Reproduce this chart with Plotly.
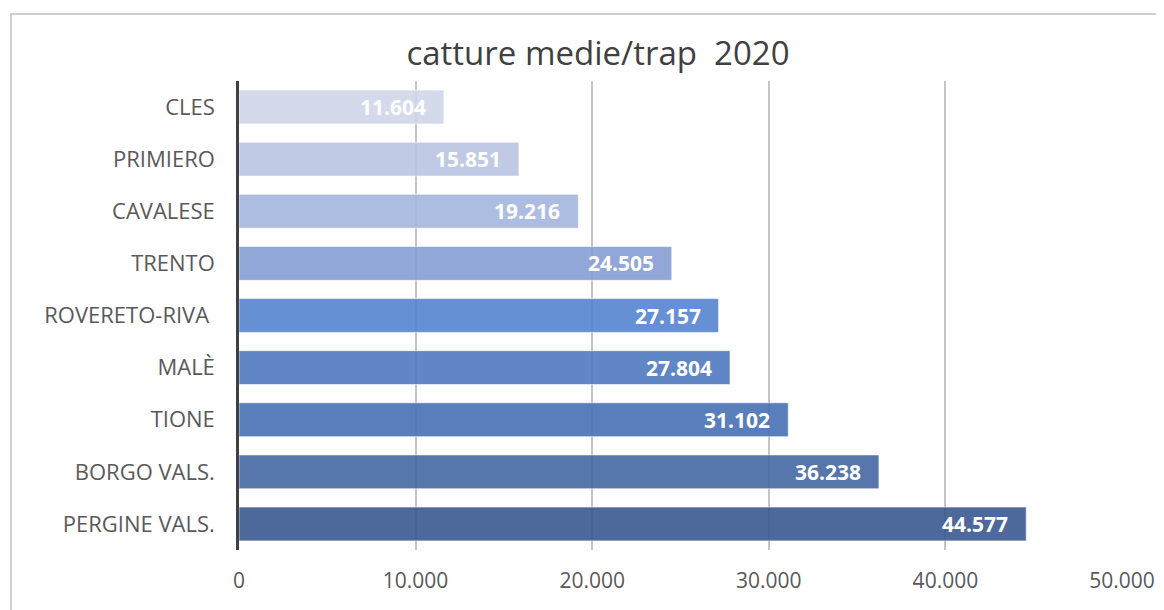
import plotly.graph_objects as go

categories = ["CLES", "PRIMIERO", "CAVALESE", "TRENTO", "ROVERETO-RIVA ", "MALÈ", "TIONE", "BORGO VALS.", "PERGINE VALS."]
values = [11604, 15851, 19216, 24505, 27157, 27804, 31102, 36238, 44577]
bar_colors = ["#d0d6ea", "#bbc5e3", "#a5b6df", "#859ed4", "#5584cf", "#4f79c0", "#4971b5", "#4468a4", "#3a5992"]
x_ticks = [0, 10000, 20000, 30000, 40000, 50000]
title_text = "catture medie/trap  2020"

W, H = 1164, 610
OFF = 8  # page body margin offset
L, R, T, B = 239 - OFF, 42 + OFF, 81 - OFF, 60 + OFF
FONT = "Open Sans"

fig = go.Figure()
fig.add_trace(go.Bar(
    y=categories, x=values, orientation="h",
    marker=dict(color=bar_colors, opacity=0.9,
                line=dict(color="rgba(255,255,255,0.6)", width=1)),
    hoverinfo="skip",
))

for c, v in zip(categories, values):
    fig.add_annotation(
        x=v, y=c, xref="x", yref="y", text=f"{v:,}".replace(",", "."),
        showarrow=False, xanchor="right", yanchor="middle", xshift=-16,
        font=dict(family=FONT, size=21, color="white", weight="bold"),
    )

pw = W - L - R
ph = H - T - B
fig.add_shape(type="rect", xref="paper", yref="paper",
              x0=(11 - OFF - L) / pw, x1=(1300 - L) / pw,
              y0=-(700 - H + B) / ph, y1=1 + (T - (14 - OFF)) / ph,
              line=dict(color="#d0d0d0", width=2), fillcolor="rgba(0,0,0,0)", layer="below")

fig.update_layout(
    width=W, height=H,
    margin=dict(l=L, r=R, t=T, b=B, pad=0),
    paper_bgcolor="white", plot_bgcolor="white",
    separators=",.",
    bargap=0.35,
    showlegend=False,
    title=dict(text=title_text, x=(598 - OFF) / W, xref="container", xanchor="center",
               y=1 - (53 - OFF) / H, yref="container", yanchor="middle",
               font=dict(family=FONT, size=33, color="#404040")),
    xaxis=dict(range=[0, 50000], tickvals=x_ticks, tickformat=",d",
               showgrid=True, gridcolor="#c4c4c4", gridwidth=1.5,
               zeroline=False, showline=False, ticks="",
               ticklabelstandoff=16,
               tickfont=dict(family=FONT, size=21, color="#595959")),
    yaxis=dict(categoryorder="array", categoryarray=categories, autorange="reversed",
               showline=True, linecolor="#404040", linewidth=2.5, ticks="",
               showgrid=False, zeroline=False, ticklabelstandoff=17,
               tickfont=dict(family=FONT, size=22, color="#595959")),
)

fig.write_html("out.html")
